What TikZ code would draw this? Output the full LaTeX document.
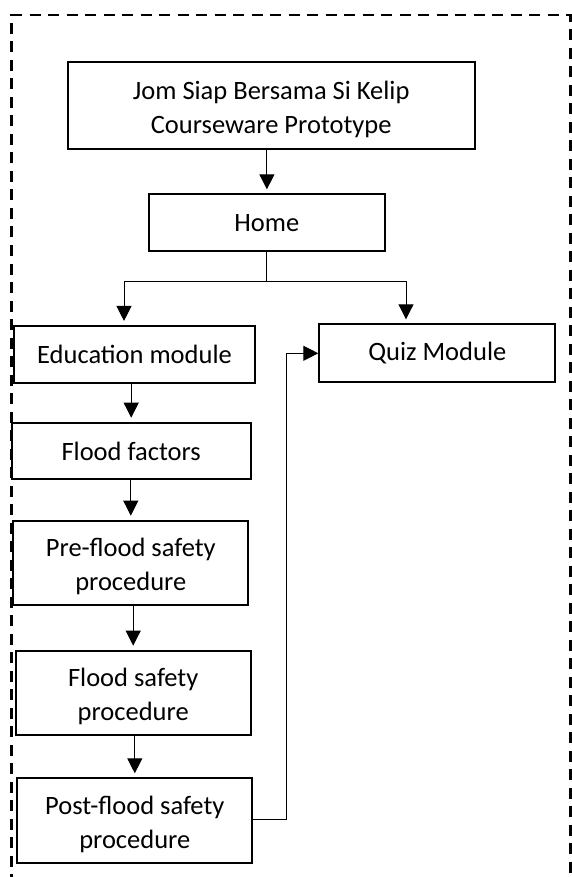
\documentclass[tikz,border=0pt]{standalone}
\usepackage{fontspec}
\setmainfont{Carlito}
\usetikzlibrary{arrows.meta}
\newcommand{\topstrut}{\rule{0pt}{26pt}}

\begin{document}
\begin{tikzpicture}[x=1pt,y=-1pt]
		\tikzset{box/.style = {shape=rectangle, draw, line width=2pt, inner sep=0pt, align=center, font=\fontsize{26.5}{34}\selectfont},
			arr/.style = {line width=1pt, -{Triangle[length=15pt,width=15pt]}},
			varr/.style = {arr, shorten >=4pt},
			frame/.style = {line width=2.5pt, dash pattern=on 11pt off 7.5pt}}

		\useasboundingbox (0,0) rectangle (571,877);
		\draw[frame] (11.7,885) -- (11.7,15) -- (570.3,15) -- (570.3,885);

		\node[box, minimum width=407pt, minimum height=87pt] (title) at (271.2,105.8) {\topstrut Jom Siap Bersama Si Kelip\\Courseware Prototype};
		\node[box, minimum width=235.7pt, minimum height=56.7pt] (home) at (266.9,222.7) {Home};
		\node[box, minimum width=241pt, minimum height=56.7pt] (educ) at (134.5,354.3) {Education module};
		\node[box, minimum width=236pt, minimum height=58pt] (quiz) at (437.3,353.3) {Quiz Module};
		\node[box, minimum width=239pt, minimum height=56.6pt] (factors) at (131.2,451) {Flood factors};
		\node[box, minimum width=235pt, minimum height=84.3pt] (pre) at (130.8,562.8) {\topstrut Pre-flood safety\\procedure};
		\node[box, minimum width=235pt, minimum height=84.3pt] (safety) at (133.2,692.8) {\topstrut Flood safety\\procedure};
		\node[box, minimum width=235pt, minimum height=84.4pt] (post) at (134.8,820.5) {\topstrut Post-flood safety\\procedure};

		\coordinate (lb) at (124,281);
		\coordinate (rb) at (406,281);
		\coordinate (back) at (286,819);

		\draw[varr] (title.south -| home.north) -- (home.north);
		\draw[line width=1pt] (home.south) -- (home.south |- lb);
		\draw[line width=1pt] (lb) -- (rb);
		\draw[varr] (lb) -- (lb |- educ.north);
		\draw[varr] (rb) -- (rb |- quiz.north);
		\draw[varr] (educ.south -| factors.north) -- (factors.north);
		\draw[varr] (factors.south -| pre.north) -- (pre.north);
		\draw[varr] (pre.south -| safety.north) -- (safety.north);
		\draw[varr] (safety.south -| post.north) -- (post.north);
		\draw[arr] (back -| post.east) -- (back) |- (quiz.west);

	\end{tikzpicture}
\end{document}
